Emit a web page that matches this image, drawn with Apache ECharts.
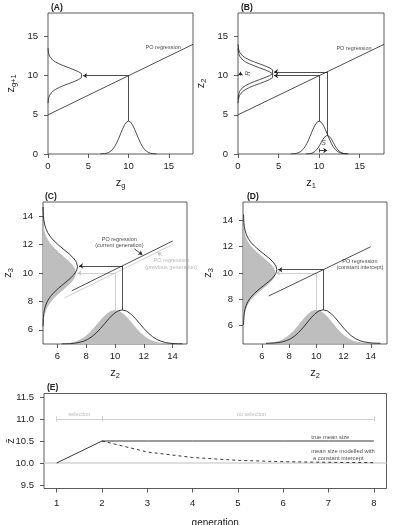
<!DOCTYPE html>
<html>
<head>
<meta charset="utf-8">
<script src="https://cdn.jsdelivr.net/npm/echarts@6/dist/echarts.min.js"></script>
<style>
  html, body { margin: 0; padding: 0; background: #fff; }
  #chart { width: 394px; height: 525px; }
</style>
</head>
<body>
<div id="chart"></div>
<script>
// ---- data ----
// bell profile shared by all density curves (offset in sd units, relative height)
const bellOffsets = [-3.5, -3.25, -3, -2.75, -2.5, -2.25, -2, -1.75, -1.5, -1.25, -1, -0.75, -0.5, -0.25, 0,
  0.25, 0.5, 0.75, 1, 1.25, 1.5, 1.75, 2, 2.25, 2.5, 2.75, 3, 3.25, 3.5];
const bellHeights = [0.002, 0.005, 0.011, 0.023, 0.044, 0.08, 0.135, 0.216, 0.325, 0.458, 0.607, 0.755, 0.882, 0.969, 1,
  0.969, 0.882, 0.755, 0.607, 0.458, 0.325, 0.216, 0.135, 0.08, 0.044, 0.023, 0.011, 0.005, 0.002];

// curves: [centre, sd, peak height, baseline]
const aParent = [10, 1, 4.2, 0];
const aOffspring = [10, 1, 4.3, 0];
const bParent = [10, 1, 4.2, 0];
const bSelected = [11, 0.75, 2.4, 0];
const bOffspringAll = [10, 1, 4.4, 0];
const bOffspringSel = [10.5, 1, 4.4, 0];
const cPrevX = [10, 1.2, 2.4, 5];
const cCurrX = [10.5, 1.2, 2.4, 5];
const cPrevY = [10, 1.2, 2.3, 5];
const cCurrY = [10.45, 1.2, 2.4, 5];
const dPrevX = [10, 1.2, 2.55, 4.65];
const dCurrX = [10.5, 1.2, 2.55, 4.65];
const dPrevY = [10, 1.2, 2.35, 4.65];
const dCurrY = [10.25, 1.2, 2.45, 4.65];

// regression lines [x1, y1, x2, y2]
const regA = [0, 5, 18, 14];
const regB = [0, 5, 18, 14];
const regCcurr = [7, 8.75, 14, 12.25];
const regCprev = [6.5, 8.25, 14, 12];
const regD = [6.5, 8.25, 14, 12];

// panel E
const generations = [1, 2, 3, 4, 5, 6, 7, 8];
const trueMean = [10, 10.5, 10.5, 10.5, 10.5, 10.5, 10.5, 10.5];
const modelledMean = [null, 10.5, 10.25, 10.125, 10.06, 10.03, 10.015, 10.008];
const phaseBreaks = [1, 2, 8];
const phaseLabels = ['selection', 'no selection'];

// tick labels
const ticksAB = [0, 5, 10, 15];
const ticksCD = [6, 8, 10, 12, 14];
const ticksEy = [9.5, 10, 10.5, 11, 11.5];

// ---- helpers ----
const FONT = 'Liberation Sans, Arial, sans-serif';
const BLACK = '#222';
const GREY_LINE = '#c4c4c4';
const GREY_TEXT = '#a8a8a8';

function bellX(p) { return bellOffsets.map((o, i) => [p[0] + o * p[1], p[3] + p[2] * bellHeights[i]]); }
function bellY(p) { return bellOffsets.map((o, i) => [p[3] + p[2] * bellHeights[i], p[0] + o * p[1]]); }

function curve(pts, g, color, width) {
  return { type: 'line', xAxisIndex: g, yAxisIndex: g, data: pts, symbol: 'none', silent: true, z: 3,
    lineStyle: { color: color || BLACK, width: width || 0.8 } };
}
function fill(pts, g) {
  return { type: 'custom', xAxisIndex: g, yAxisIndex: g, data: [pts[0]], silent: true, z: 1,
    renderItem: (params, api) => ({ type: 'polygon', shape: { points: pts.map(p => api.coord(p)) }, style: { fill: '#bebebe' } }) };
}
function segs(list, g, color, arrow, dash) {
  return { type: 'lines', coordinateSystem: 'cartesian2d', xAxisIndex: g, yAxisIndex: g, silent: true, z: 4,
    symbol: arrow ? ['none', 'arrow'] : 'none', symbolSize: 4,
    lineStyle: { color: color || BLACK, width: 0.8, opacity: 1, type: dash || 'solid' },
    data: list.map(s => ({ coords: [[s[0], s[1]], [s[2], s[3]]] })) };
}
function texts(list, g, color, size) {
  return { type: 'scatter', xAxisIndex: g, yAxisIndex: g, symbolSize: 0, silent: true, z: 5,
    labelLayout: { hideOverlap: false },
    data: list.map(t => ({ value: [t[0], t[1]], label: { show: true, position: 'inside', formatter: t[2],
      color: color || BLACK, fontSize: size || 5.5, fontFamily: FONT, lineHeight: (size || 5.5) + 1.2,
      align: t[3] || 'center', rotate: t[4] || 0, fontStyle: t[5] || 'normal' } })) };
}
function subName(main, sub) {
  return { name: '{z|' + main + '}{s|' + sub + '}',
    nameTextStyle: { rich: {
      z: { fontSize: 11, fontFamily: FONT, color: BLACK, lineHeight: 15 },
      s: { fontSize: 7.5, fontFamily: FONT, color: BLACK, lineHeight: 9, verticalAlign: 'bottom' } } } };
}
function axis(g, min, max, ticks, dim, nameObj, gap, fmt, margin) {
  return Object.assign({
    gridIndex: g, type: 'value', min: min, max: max,
    axisLine: { show: false }, splitLine: { show: false },
    axisTick: { show: true, length: 4, customValues: ticks, lineStyle: { color: '#333', width: 0.8 } },
    axisLabel: { customValues: ticks, fontSize: 9.5, fontFamily: FONT, color: BLACK,
      margin: margin || (dim === 'x' ? 7 : 10), formatter: fmt || (v => String(v)) },
    nameLocation: 'middle', nameGap: gap, nameMoveOverlap: false
  }, nameObj);
}

const grids = [
  { left: 48, top: 13, width: 145, height: 141 },
  { left: 238, top: 13, width: 146, height: 141 },
  { left: 43, top: 202, width: 144, height: 142 },
  { left: 243, top: 202, width: 144, height: 142 },
  { left: 44, top: 393.5, width: 342.5, height: 95 }
].map(g => Object.assign(g, { show: true, borderColor: '#333', borderWidth: 0.8, backgroundColor: 'transparent',
  containLabel: false, outerBoundsMode: 'none' }));

const xAxes = [
  axis(0, 0, 18, ticksAB, 'x', subName('z', 'g'), 21),
  axis(1, 0, 18, ticksAB, 'x', subName('z', '1'), 21),
  axis(2, 5, 15, ticksCD, 'x', subName('z', '2'), 21),
  axis(3, 4.61, 15.19, ticksCD, 'x', subName('z', '2'), 21),
  axis(4, 0.72, 8.28, generations, 'x', { name: 'generation', nameTextStyle: { fontSize: 10, fontFamily: FONT, color: BLACK } }, 30, null, 10)
];
const yAxes = [
  axis(0, 0, 18, ticksAB, 'y', subName('z', 'g+1'), 30),
  axis(1, 0, 18, ticksAB, 'y', subName('z', '2'), 30),
  axis(2, 5, 15, ticksCD, 'y', subName('z', '3'), 28),
  axis(3, 4.6, 15.4, ticksCD, 'y', subName('z', '3'), 28),
  axis(4, 9.42, 11.58, ticksEy, 'y', { name: 'z\u0304', nameTextStyle: { fontSize: 11, fontFamily: FONT, color: BLACK } }, 28, v => v.toFixed(1))
];

const series = [
  // (A)
  curve(bellX(aParent), 0), curve(bellY(aOffspring), 0),
  segs([regA, [10, 4.2, 10, 10]], 0),
  segs([[10, 10, 4.35, 10]], 0, BLACK, true),
  texts([[14.3, 13.55, 'PO regression']], 0),
  // (B)
  curve(bellX(bParent), 1), curve(bellX(bSelected), 1),
  curve(bellY(bOffspringAll), 1), curve(bellY(bOffspringSel), 1),
  segs([regB, [10, 4.2, 10, 10], [11, 2.4, 11, 10.5], [10, 0.2, 10, 0.7]], 1),
  segs([[10, 10, 4.45, 10], [11, 10.5, 4.45, 10.5], [10, 0.45, 11, 0.45], [0.3, 10, 0.3, 10.5]], 1, BLACK, true),
  texts([[14.3, 13.45, 'PO regression']], 1),
  texts([[10.55, 1.35, 'S', 'center', 0, 'italic'], [1.25, 10.3, 'R', 'center', 90, 'italic']], 1, BLACK, 6.5),
  // (C)
  fill(bellX(cPrevX), 2), fill(bellY(cPrevY), 2),
  curve(bellX(cCurrX), 2, BLACK, 0.9), curve(bellY(cCurrY), 2, BLACK, 0.9),
  segs([regCprev, [10, 7.4, 10, 10]], 2, GREY_LINE),
  segs([[10, 10, 7.4, 10], [13.3, 11.2, 12.95, 11.45]], 2, GREY_LINE, true),
  segs([regCcurr, [10.5, 7.4, 10.5, 10.5]], 2),
  segs([[10.5, 10.5, 7.5, 10.5], [11.35, 11.7, 11.9, 11.28]], 2, BLACK, true),
  texts([[10.3, 12.14, 'PO regression\n(current generation)']], 2),
  texts([[13.9, 10.63, 'PO regression\n(previous generation)']], 2, GREY_TEXT),
  // (D)
  fill(bellX(dPrevX), 3), fill(bellY(dPrevY), 3),
  curve(bellX(dCurrX), 3, BLACK, 0.9), curve(bellY(dCurrY), 3, BLACK, 0.9),
  segs([[10, 7.2, 10, 10]], 3, GREY_LINE),
  segs([[10, 10, 7.05, 10]], 3, GREY_LINE, true),
  segs([regD, [10.5, 7.2, 10.5, 10.25]], 3),
  segs([[10.5, 10.25, 7.2, 10.25]], 3, BLACK, true),
  texts([[13.2, 10.64, 'PO regression\n(constant intercept)']], 3),
  // (E)
  { type: 'lines', coordinateSystem: 'cartesian2d', xAxisIndex: 4, yAxisIndex: 4, silent: true, z: 2,
    lineStyle: { color: '#d4d4d4', width: 1.6, opacity: 1 }, data: [{ coords: [[0.72, 10], [8.28, 10]] }] },
  segs([[phaseBreaks[0], 11, phaseBreaks[2], 11]].concat(phaseBreaks.map(b => [b, 10.94, b, 11.06])), 4, GREY_LINE),
  texts([[(phaseBreaks[0] + phaseBreaks[1]) / 2, 11.11, phaseLabels[0]], [5.3, 11.11, phaseLabels[1]]], 4, GREY_TEXT),
  { type: 'line', xAxisIndex: 4, yAxisIndex: 4, symbol: 'none', silent: true, z: 3,
    data: generations.map((g, i) => [g, trueMean[i]]), lineStyle: { color: BLACK, width: 0.9 } },
  { type: 'line', xAxisIndex: 4, yAxisIndex: 4, symbol: 'none', silent: true, z: 3,
    data: generations.map((g, i) => [g, modelledMean[i]]).filter(p => p[1] !== null),
    lineStyle: { color: BLACK, width: 0.9, type: [3, 3] } },
  texts([[6.62, 10.59, 'true mean size', 'left'],
         [6.62, 10.19, 'mean size modelled with\n a constant intercept', 'left']], 4, BLACK, 5.8)
];

const panelTitles = [['(A)', 51, 3], ['(B)', 241, 3], ['(C)', 45, 192], ['(D)', 247, 192], ['(E)', 47, 383]];

const chart = echarts.init(document.getElementById('chart'), null, { renderer: 'canvas' });
chart.setOption({
  animation: false,
  grid: grids,
  xAxis: xAxes,
  yAxis: yAxes,
  series: series,
  graphic: panelTitles.map(t => ({ type: 'text', left: t[1], top: t[2],
    style: { text: t[0], fontSize: 8.5, fontWeight: 'bold', fontFamily: FONT, fill: BLACK } }))
});
</script>
</body>
</html>
